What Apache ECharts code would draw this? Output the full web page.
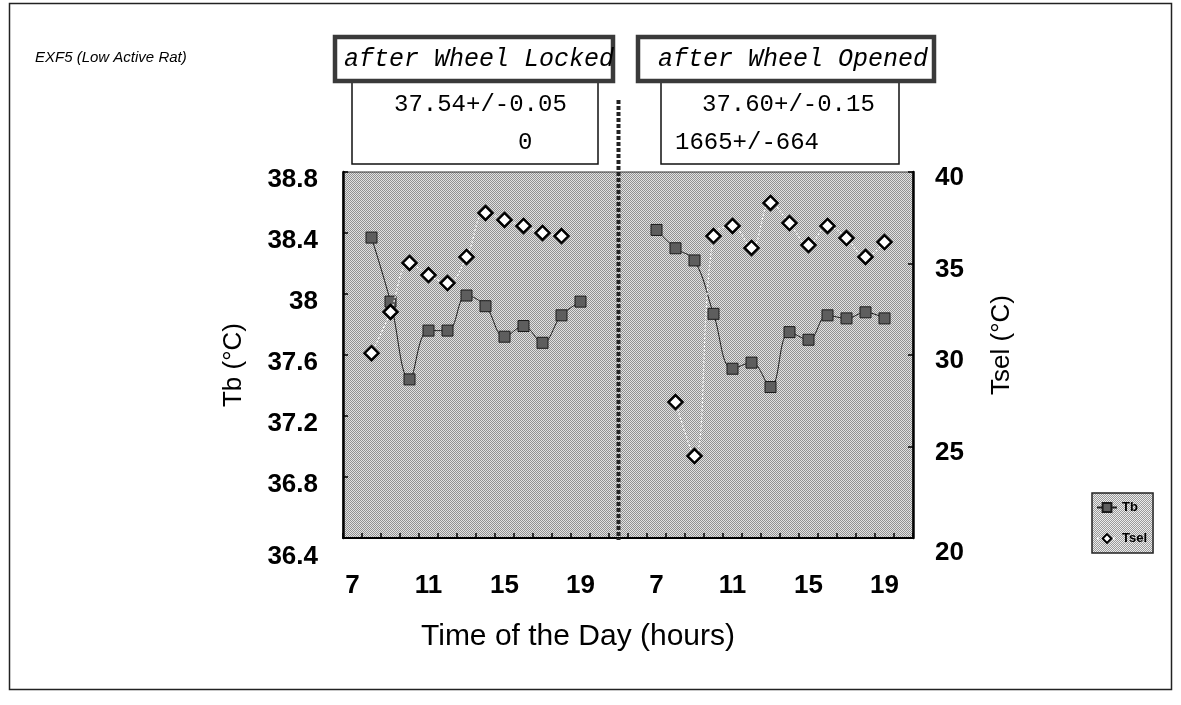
<!DOCTYPE html>
<html>
<head>
<meta charset="utf-8">
<script src="https://cdn.jsdelivr.net/npm/echarts@6/dist/echarts.min.js"></script>
<style>
  html, body { margin: 0; padding: 0; background: #fff; }
  #chart { width: 1181px; height: 705px; }
</style>
</head>
<body>
<div id="chart"></div>
<script>
// Hour categories of the two panels; one empty slot separates them
const lockedHours = [7, 8, 9, 10, 11, 12, 13, 14, 15, 16, 17, 18, 19, 20];
const openedHours = [6, 7, 8, 9, 10, 11, 12, 13, 14, 15, 16, 17, 18, 19, 20];
const tickHours = [7, 11, 15, 19];

// Body temperature (Tb, left axis) and selected temperature (Tsel, right axis)
const tbLockedHours = [8, 9, 10, 11, 12, 13, 14, 15, 16, 17, 18, 19];
const tbLocked = [38.37, 37.95, 37.44, 37.76, 37.76, 37.99, 37.92, 37.72, 37.79, 37.68, 37.86, 37.95];
const tselLockedHours = [8, 9, 10, 11, 12, 13, 14, 15, 16, 17, 18];
const tselLocked = [30.1, 32.35, 35.03, 34.37, 33.93, 35.36, 37.76, 37.38, 37.05, 36.67, 36.5];

const tbOpenedHours = [7, 8, 9, 10, 11, 12, 13, 14, 15, 16, 17, 18, 19];
const tbOpened = [38.42, 38.3, 38.22, 37.87, 37.51, 37.55, 37.39, 37.75, 37.7, 37.86, 37.84, 37.88, 37.84];
const tselOpenedHours = [8, 9, 10, 11, 12, 13, 14, 15, 16, 17, 18, 19];
const tselOpened = [27.43, 24.48, 36.5, 37.05, 35.85, 38.31, 37.21, 36.01, 37.05, 36.39, 35.36, 36.17];

// Panel headings and summary lines
const panelTitles = ['after Wheel Locked', 'after Wheel Opened'];
const lockedStats = ['37.54+/-0.05', '0'];
const openedStats = ['37.60+/-0.15', '1665+/-664'];
const subtitle = 'EXF5 (Low Active Rat)';

const categories = lockedHours.map(h => 'L' + h)
  .concat(['gap'])
  .concat(openedHours.map(h => 'R' + h));

const pair = (prefix, hours, vals) => hours.map((h, i) => [prefix + h, vals[i]]);

// fine checkered grey fill, like a printed halftone
function stipple(dark, light) {
  const c = document.createElement('canvas');
  c.width = 2; c.height = 2;
  const g = c.getContext('2d');
  g.fillStyle = light; g.fillRect(0, 0, 2, 2);
  g.fillStyle = dark; g.fillRect(0, 0, 1, 1); g.fillRect(1, 1, 1, 1);
  return { image: c, repeat: 'repeat' };
}
const plotFill = stipple('#929292', '#e2e2e2');

const SANS = '"Liberation Sans", Arial, sans-serif';
const MONO = '"Liberation Mono", "DejaVu Sans Mono", monospace';

const tbStyle = {
  type: 'line', name: 'Tb', yAxisIndex: 0, smooth: 0.4,
  symbol: 'rect', symbolSize: 11,
  lineStyle: { color: '#1e1e1e', width: 1 },
  itemStyle: { color: '#5e5e5e', borderColor: '#1a1a1a', borderWidth: 1 },
  z: 3
};
const tselStyle = {
  type: 'line', name: 'Tsel', yAxisIndex: 1, smooth: 0.4,
  symbol: 'diamond', symbolSize: 14,
  lineStyle: { color: '#fbfbfb', width: 1.2, type: [2, 2] },
  itemStyle: { color: '#ffffff', borderColor: '#000000', borderWidth: 2.5 },
  z: 4
};

const chart = echarts.init(document.getElementById('chart'), null, { renderer: 'canvas' });

const option = {
  animation: false,
  backgroundColor: '#ffffff',
  grid: {
    left: 343, right: 268, top: 172, bottom: 167,
    show: true, backgroundColor: plotFill,
    borderColor: '#333', borderWidth: 1
  },
  legend: {
    data: ['Tb', 'Tsel'],
    orient: 'vertical',
    left: 1092, top: 493,
    padding: [8, 6, 8, 4],
    itemGap: 18,
    itemWidth: 20, itemHeight: 11,
    backgroundColor: stipple('#9a9a9a', '#ececec'),
    borderColor: '#222', borderWidth: 1.5, borderRadius: 0,
    textStyle: { fontFamily: SANS, fontSize: 13, fontWeight: 'bold', color: '#000' }
  },
  xAxis: {
    type: 'category',
    data: categories,
    boundaryGap: true,
    name: 'Time of the Day (hours)',
    nameLocation: 'middle',
    nameGap: 84,
    nameTextStyle: { fontFamily: SANS, fontSize: 30, color: '#000', padding: [0, 100, 0, 0] },
    axisLine: { lineStyle: { color: '#000', width: 2 } },
    axisTick: { show: true, inside: true, length: 5, interval: 0, lineStyle: { color: '#000', width: 1.5 } },
    axisLabel: {
      interval: 0, margin: 35,
      fontFamily: SANS, fontSize: 26, fontWeight: 'bold', color: '#000',
      formatter: name => {
        const h = name.slice(1);
        return name !== 'gap' && tickHours.includes(+h) ? h : '';
      }
    },
    splitLine: { show: false }
  },
  yAxis: [
    {
      type: 'value', position: 'left',
      min: 36.4, max: 38.8, interval: 0.4,
      name: 'Tb (\u00b0C)', nameLocation: 'middle', nameGap: 96,
      nameTextStyle: { fontFamily: SANS, fontSize: 26, color: '#000', padding: [0, 20, 0, 0] },
      axisLine: { show: true, lineStyle: { color: '#000', width: 2.5 } },
      axisTick: { show: true, inside: true, length: 5, lineStyle: { color: '#000', width: 1.5 } },
      axisLabel: {
        margin: 25,
        fontFamily: SANS, fontSize: 26, fontWeight: 'bold', color: '#000',
        padding: [16, 0, 0, 0],
        formatter: v => {
          const s = String(+v.toFixed(1));
          return v <= 36.4001 ? '{low|' + s + '}' : s;
        },
        rich: { low: { fontFamily: SANS, fontSize: 26, fontWeight: 'bold', color: '#000', padding: [22, 0, 0, 0] } }
      },
      splitLine: { show: false }
    },
    {
      type: 'value', position: 'right',
      min: 20, max: 40, interval: 5,
      name: 'Tsel (\u00b0C)', nameLocation: 'middle', nameGap: 76,
      nameTextStyle: { fontFamily: SANS, fontSize: 26, color: '#000', padding: [0, 0, 0, 20] },
      axisLine: { show: true, lineStyle: { color: '#000', width: 2.5 } },
      axisTick: { show: true, inside: true, length: 5, lineStyle: { color: '#000', width: 1.5 } },
      axisLabel: {
        margin: 22,
        fontFamily: SANS, fontSize: 26, fontWeight: 'bold', color: '#000',
        padding: [12, 0, 0, 0],
        formatter: v => (v <= 20 ? '{low|' + v + '}' : String(v)),
        rich: { low: { fontFamily: SANS, fontSize: 26, fontWeight: 'bold', color: '#000', padding: [18, 0, 0, 0] } }
      },
      splitLine: { show: false }
    }
  ],
  series: [
    Object.assign({}, tselStyle, { data: pair('L', tselLockedHours, tselLocked) }),
    Object.assign({}, tbStyle, { data: pair('L', tbLockedHours, tbLocked) }),
    Object.assign({}, tselStyle, { data: pair('R', tselOpenedHours, tselOpened) }),
    Object.assign({}, tbStyle, { data: pair('R', tbOpenedHours, tbOpened) })
  ]
};
chart.setOption(option);

// Annotations: frame, subtitle, panel headings with their summaries, and the divider
const gapX = chart.convertToPixel({ xAxisIndex: 0 }, 'gap');
const plotBottom = chart.convertToPixel({ yAxisIndex: 0 }, 36.4);

function titleBox(x, y, w, h, text, tx) {
  return {
    type: 'group',
    children: [
      { type: 'rect', shape: { x: x, y: y, width: w, height: h },
        style: { fill: '#fff', stroke: '#3a3a3a', lineWidth: 4.5 } },
      { type: 'text', x: tx, y: y + h / 2,
        style: { text: text, font: 'italic 25px ' + MONO, fill: '#000', verticalAlign: 'middle' } }
    ]
  };
}
function statsBox(x, y, w, h, lines, xs) {
  return {
    type: 'group',
    children: [
      { type: 'rect', shape: { x: x, y: y, width: w, height: h },
        style: { fill: '#fff', stroke: '#111', lineWidth: 1.5 } },
      { type: 'text', x: xs[0], y: y + 23,
        style: { text: lines[0], font: '24px ' + MONO, fill: '#000', verticalAlign: 'middle' } },
      { type: 'text', x: xs[1], y: y + 61,
        style: { text: lines[1], font: '24px ' + MONO, fill: '#000', verticalAlign: 'middle' } }
    ]
  };
}

chart.setOption({
  graphic: [
    { type: 'rect', z: 0, shape: { x: 9.5, y: 3.5, width: 1162, height: 686 },
      style: { fill: 'none', stroke: '#222', lineWidth: 1.5 } },
    { type: 'text', x: 35, y: 58,
      style: { text: subtitle, font: 'italic 15px ' + SANS, fill: '#000', verticalAlign: 'middle' } },
    statsBox(352, 82, 246, 82, lockedStats, [394, 518]),
    statsBox(661, 82, 238, 82, openedStats, [702, 675]),
    titleBox(335, 37, 278, 44, panelTitles[0], 344),
    titleBox(638, 37, 296, 44, panelTitles[1], 658),
    { type: 'line', z: 10,
      shape: { x1: gapX, y1: 100, x2: gapX, y2: plotBottom + 2 },
      style: { stroke: '#222', lineWidth: 4, lineDash: [4, 2] } }
  ]
});
</script>
</body>
</html>
